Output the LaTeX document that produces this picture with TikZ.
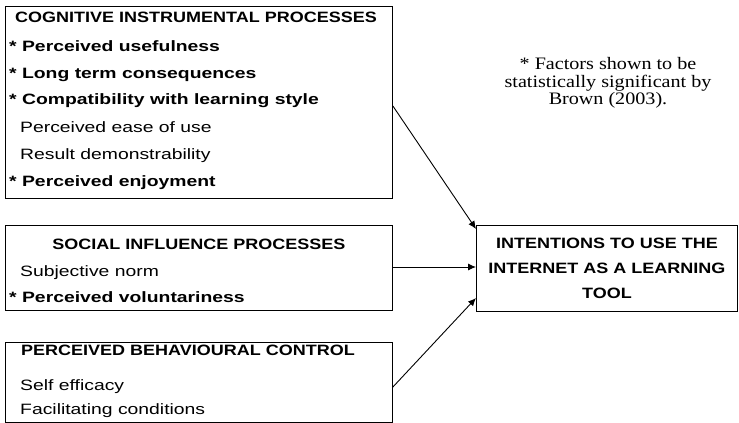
\documentclass[tikz,border=0pt]{standalone}
\usepackage{fontspec}
\usetikzlibrary{arrows.meta}
\newfontfamily\hdrfont{Liberation Sans}[FakeStretch=1.2]
\newfontfamily\itmfont{Liberation Sans}[FakeStretch=1.29]
\newfontfamily\notefont{Liberation Serif}[FakeStretch=1.15]
\tikzset{
  box/.style={draw=black, line width=0.9pt, anchor=north west, inner sep=0pt},
  hdr/.style={font=\hdrfont\bfseries\fontsize{15}{16}\selectfont, inner sep=0pt},
  itm/.style={font=\itmfont\fontsize{15}{16}\selectfont, inner sep=0pt, anchor=base west},
  itmb/.style={font=\itmfont\bfseries\fontsize{15}{16}\selectfont, inner sep=0pt, anchor=base west},
  conn/.style={draw=black, line width=0.9pt, -{Latex[length=8pt,width=7pt]}},
}
\begin{document}
\begin{tikzpicture}[x=1pt,y=1pt]
\useasboundingbox (0,0) rectangle (739,-423);
% boxes
\node[box, minimum width=387pt, minimum height=192pt] (b1) at (5,-6) {};
\node[box, minimum width=387pt, minimum height=85pt] (b2) at (5,-225) {};
\node[box, minimum width=387pt, minimum height=80pt] (b3) at (5,-342) {};
\node[box, minimum width=261pt, minimum height=86pt,
      font=\hdrfont\bfseries\fontsize{15}{25}\selectfont, align=center] (t) at (476,-225)
      {INTENTIONS TO USE THE\\INTERNET AS A LEARNING\\TOOL};
% box 1 texts
\node[hdr, anchor=base west] (h1) at (15,-23) {COGNITIVE INSTRUMENTAL PROCESSES};
\node[itmb] (l11) at (9,-51) {* Perceived usefulness};
\node[itmb] (l12) at (9,-78) {* Long term consequences};
\node[itmb] (l13) at (9,-104) {* Compatibility with learning style};
\node[itm] (l14) at (20,-132) {Perceived ease of use};
\node[itm] (l15) at (20,-159) {Result demonstrability};
\node[itmb] (l16) at (9,-186) {* Perceived enjoyment};
% box 2 texts
\node[hdr, anchor=base] (h2) at (199,-249) {SOCIAL INFLUENCE PROCESSES};
\node[itm] (l21) at (20,-276) {Subjective norm};
\node[itmb] (l22) at (9,-302) {* Perceived voluntariness};
% box 3 texts
\node[hdr, anchor=base west] (h3) at (21,-355) {PERCEIVED BEHAVIOURAL CONTROL};
\node[itm] (l31) at (20,-390) {Self efficacy};
\node[itm] (l32) at (20,-414) {Facilitating conditions};
% note
\node[font=\notefont\fontsize{17.5}{17.5}\selectfont, align=center, inner sep=0pt] (note) at (608,-83)
  {* Factors shown to be\\statistically significant by\\Brown (2003).};
% connectors
\draw[conn] ([yshift=-100pt]b1.north east) -- ([yshift=-4pt]t.north west);
\draw[conn] ([yshift=-42pt]b2.north east) -- ([yshift=-42pt]t.north west);
\draw[conn] ([yshift=-45pt]b3.north east) -- ([yshift=-73pt]t.north west);
\end{tikzpicture}
\end{document}
